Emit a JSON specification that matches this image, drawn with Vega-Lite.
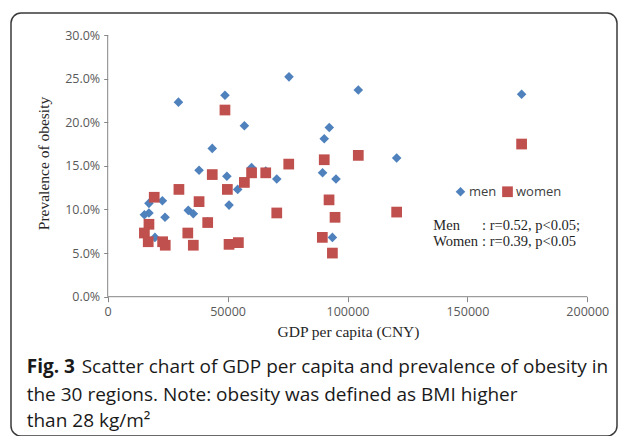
{
  "$schema": "https://vega.github.io/schema/vega-lite/v6.json",
  "width": 606,
  "height": 423,
  "autosize": "none",
  "padding": {"left": 11, "top": 13, "right": 11, "bottom": 0},
  "background": "white",
  "config": {
    "view": {"stroke": "#3a3a3a", "strokeWidth": 1.5, "cornerRadius": 10, "fill": "white"}
  },
  "layer": [
    {
      "data": {
        "values": [
          {"region_gdp": 29500, "prevalence": 0.223, "sex": "men"},
          {"region_gdp": 48900, "prevalence": 0.231, "sex": "men"},
          {"region_gdp": 75600, "prevalence": 0.252, "sex": "men"},
          {"region_gdp": 104500, "prevalence": 0.237, "sex": "men"},
          {"region_gdp": 172600, "prevalence": 0.232, "sex": "men"},
          {"region_gdp": 57000, "prevalence": 0.196, "sex": "men"},
          {"region_gdp": 43600, "prevalence": 0.170, "sex": "men"},
          {"region_gdp": 92400, "prevalence": 0.194, "sex": "men"},
          {"region_gdp": 90300, "prevalence": 0.181, "sex": "men"},
          {"region_gdp": 120500, "prevalence": 0.159, "sex": "men"},
          {"region_gdp": 89600, "prevalence": 0.142, "sex": "men"},
          {"region_gdp": 95200, "prevalence": 0.135, "sex": "men"},
          {"region_gdp": 93700, "prevalence": 0.068, "sex": "men"},
          {"region_gdp": 38100, "prevalence": 0.145, "sex": "men"},
          {"region_gdp": 60000, "prevalence": 0.148, "sex": "men"},
          {"region_gdp": 49700, "prevalence": 0.138, "sex": "men"},
          {"region_gdp": 70500, "prevalence": 0.135, "sex": "men"},
          {"region_gdp": 54200, "prevalence": 0.123, "sex": "men"},
          {"region_gdp": 50600, "prevalence": 0.105, "sex": "men"},
          {"region_gdp": 17200, "prevalence": 0.107, "sex": "men"},
          {"region_gdp": 22800, "prevalence": 0.110, "sex": "men"},
          {"region_gdp": 15300, "prevalence": 0.094, "sex": "men"},
          {"region_gdp": 17200, "prevalence": 0.096, "sex": "men"},
          {"region_gdp": 23900, "prevalence": 0.091, "sex": "men"},
          {"region_gdp": 33600, "prevalence": 0.099, "sex": "men"},
          {"region_gdp": 35700, "prevalence": 0.095, "sex": "men"},
          {"region_gdp": 19700, "prevalence": 0.068, "sex": "men"},
          {"region_gdp": 65900, "prevalence": 0.144, "sex": "men"},
          {"region_gdp": 41700, "prevalence": 0.086, "sex": "men"},
          {"region_gdp": 48900, "prevalence": 0.214, "sex": "women"},
          {"region_gdp": 172600, "prevalence": 0.175, "sex": "women"},
          {"region_gdp": 104500, "prevalence": 0.162, "sex": "women"},
          {"region_gdp": 90300, "prevalence": 0.157, "sex": "women"},
          {"region_gdp": 75500, "prevalence": 0.152, "sex": "women"},
          {"region_gdp": 60000, "prevalence": 0.142, "sex": "women"},
          {"region_gdp": 65900, "prevalence": 0.142, "sex": "women"},
          {"region_gdp": 57000, "prevalence": 0.131, "sex": "women"},
          {"region_gdp": 49900, "prevalence": 0.123, "sex": "women"},
          {"region_gdp": 43600, "prevalence": 0.140, "sex": "women"},
          {"region_gdp": 70500, "prevalence": 0.096, "sex": "women"},
          {"region_gdp": 50600, "prevalence": 0.060, "sex": "women"},
          {"region_gdp": 54500, "prevalence": 0.062, "sex": "women"},
          {"region_gdp": 92300, "prevalence": 0.111, "sex": "women"},
          {"region_gdp": 94800, "prevalence": 0.091, "sex": "women"},
          {"region_gdp": 89500, "prevalence": 0.068, "sex": "women"},
          {"region_gdp": 93700, "prevalence": 0.050, "sex": "women"},
          {"region_gdp": 41700, "prevalence": 0.085, "sex": "women"},
          {"region_gdp": 120500, "prevalence": 0.097, "sex": "women"},
          {"region_gdp": 19400, "prevalence": 0.114, "sex": "women"},
          {"region_gdp": 29700, "prevalence": 0.123, "sex": "women"},
          {"region_gdp": 38100, "prevalence": 0.109, "sex": "women"},
          {"region_gdp": 17200, "prevalence": 0.083, "sex": "women"},
          {"region_gdp": 15300, "prevalence": 0.073, "sex": "women"},
          {"region_gdp": 16900, "prevalence": 0.063, "sex": "women"},
          {"region_gdp": 22900, "prevalence": 0.063, "sex": "women"},
          {"region_gdp": 24000, "prevalence": 0.059, "sex": "women"},
          {"region_gdp": 33400, "prevalence": 0.073, "sex": "women"},
          {"region_gdp": 35700, "prevalence": 0.059, "sex": "women"}
        ]
      },
      "mark": {"type": "point", "filled": true, "opacity": 1, "strokeWidth": 0},
      "encoding": {
        "x": {
          "field": "region_gdp", "type": "quantitative",
          "scale": {"domain": [-40325, 212382], "nice": false, "zero": false},
          "axis": {
            "values": [0, 50000, 100000, 150000, 200000],
            "format": "d",
            "domain": false, "grid": false,
            "offset": -139.3,
            "tickSize": 5, "tickColor": "#868686", "tickWidth": 1,
            "labelFont": "Open Sans", "labelFontSize": 12.5, "labelColor": "#595959", "labelPadding": 4,
            "title": "GDP per capita (CNY)",
            "titleFont": "Liberation Serif", "titleFontSize": 15.5, "titleFontWeight": "normal", "titleColor": "#262626",
            "titleX": 337, "titleY": 40, "titleAlign": "center", "titleBaseline": "alphabetic"
          }
        },
        "y": {
          "field": "prevalence", "type": "quantitative",
          "scale": {"domain": [-0.15969, 0.32522], "nice": false, "zero": false},
          "axis": {
            "values": [0, 0.05, 0.10, 0.15, 0.20, 0.25, 0.30],
            "format": ".1%",
            "domain": false, "grid": false,
            "offset": -96.7,
            "tickSize": 4, "tickColor": "#868686", "tickWidth": 1,
            "labelFont": "Open Sans", "labelFontSize": 12.5, "labelColor": "#595959", "labelPadding": 4,
            "title": "Prevalence of obesity",
            "titleFont": "Liberation Serif", "titleFontSize": 15.5, "titleFontWeight": "normal", "titleColor": "#262626",
            "titleX": -59, "titleY": 150, "titleAngle": 270, "titleAlign": "center", "titleBaseline": "alphabetic"
          }
        },
        "color": {
          "field": "sex", "type": "nominal",
          "scale": {"domain": ["men", "women"], "range": ["#4F81BD", "#C0504D"]},
          "legend": {
            "orient": "none", "legendX": 443, "legendY": 172, "direction": "horizontal",
            "title": null, "padding": 0, "columnPadding": 4, "labelOffset": 2,
            "labelFont": "Open Sans", "labelFontSize": 13, "labelColor": "#404040",
            "symbolSize": 55, "symbolStrokeWidth": 0
          }
        },
        "shape": {
          "field": "sex", "type": "nominal",
          "scale": {"domain": ["men", "women"], "range": ["diamond", "square"]}
        },
        "size": {
          "field": "sex", "type": "ordinal",
          "scale": {"domain": ["men", "women"], "range": [92, 115]},
          "legend": null
        }
      }
    },
    {
      "data": {"values": [{}]},
      "mark": {"type": "rule", "color": "#868686", "strokeWidth": 1},
      "encoding": {
        "x": {"datum": 0, "type": "quantitative"},
        "x2": {"datum": 200000},
        "y": {"datum": 0, "type": "quantitative"}
      }
    },
    {
      "data": {"values": [{}]},
      "mark": {"type": "rule", "color": "#868686", "strokeWidth": 1},
      "encoding": {
        "x": {"datum": 0, "type": "quantitative"},
        "y": {"datum": 0, "type": "quantitative"},
        "y2": {"datum": 0.30}
      }
    },
    {
      "data": {"values": [{}]},
      "mark": {"type": "text", "text": "Men", "font": "Liberation Serif", "fontSize": 14.5, "color": "#1f1f1f", "align": "left", "baseline": "alphabetic"},
      "encoding": {"x": {"datum": 135780, "type": "quantitative"}, "y": {"datum": 0.0765, "type": "quantitative"}}
    },
    {
      "data": {"values": [{}]},
      "mark": {"type": "text", "text": "Women", "font": "Liberation Serif", "fontSize": 14.5, "color": "#1f1f1f", "align": "left", "baseline": "alphabetic"},
      "encoding": {"x": {"datum": 135780, "type": "quantitative"}, "y": {"datum": 0.0585, "type": "quantitative"}}
    },
    {
      "data": {"values": [{}]},
      "mark": {"type": "text", "text": ": r=0.52, p<0.05;", "font": "Liberation Serif", "fontSize": 14.5, "color": "#1f1f1f", "align": "left", "baseline": "alphabetic"},
      "encoding": {"x": {"datum": 156087, "type": "quantitative"}, "y": {"datum": 0.0765, "type": "quantitative"}}
    },
    {
      "data": {"values": [{}]},
      "mark": {"type": "text", "text": ": r=0.39, p<0.05", "font": "Liberation Serif", "fontSize": 14.5, "color": "#1f1f1f", "align": "left", "baseline": "alphabetic"},
      "encoding": {"x": {"datum": 156087, "type": "quantitative"}, "y": {"datum": 0.0585, "type": "quantitative"}}
    },
    {
      "data": {"values": [{}]},
      "mark": {"type": "text", "text": "Fig. 3", "font": "Open Sans", "fontSize": 19, "fontWeight": "bold", "color": "#1a1a1a", "align": "left", "baseline": "alphabetic"},
      "encoding": {"x": {"datum": -33778, "type": "quantitative"}, "y": {"datum": -0.08804, "type": "quantitative"}}
    },
    {
      "data": {"values": [{}]},
      "mark": {"type": "text", "text": "Scatter chart of GDP per capita and prevalence of obesity in", "font": "Open Sans", "fontSize": 19, "color": "#1a1a1a", "align": "left", "baseline": "alphabetic"},
      "encoding": {"x": {"datum": -10842, "type": "quantitative"}, "y": {"datum": -0.08804, "type": "quantitative"}}
    },
    {
      "data": {"values": [{}]},
      "mark": {"type": "text", "text": "the 30 regions. Note: obesity was defined as BMI higher", "font": "Open Sans", "fontSize": 19, "color": "#1a1a1a", "align": "left", "baseline": "alphabetic"},
      "encoding": {"x": {"datum": -33778, "type": "quantitative"}, "y": {"datum": -0.11956, "type": "quantitative"}}
    },
    {
      "data": {"values": [{}]},
      "mark": {"type": "text", "text": "than 28 kg/m²", "font": "Open Sans", "fontSize": 19, "color": "#1a1a1a", "align": "left", "baseline": "alphabetic"},
      "encoding": {"x": {"datum": -33778, "type": "quantitative"}, "y": {"datum": -0.14994, "type": "quantitative"}}
    }
  ]
}
